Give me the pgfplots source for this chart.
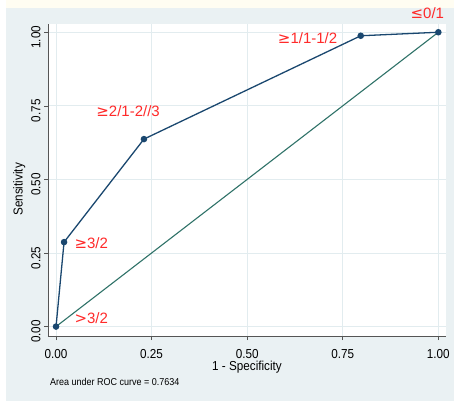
\documentclass[border=0pt]{standalone}
\usepackage{fontspec}
\setmainfont{Liberation Sans}
\newfontfamily\narrowfont[FakeStretch=0.9]{Liberation Sans}
\newfontfamily\symfont{DejaVu Sans}
\usepackage{pgfplots}
\pgfplotsset{compat=1.18}
\definecolor{bgc}{HTML}{EAF1F3}
\definecolor{roc}{HTML}{1A476F}
\definecolor{diag}{HTML}{2F7268}
\definecolor{gridc}{HTML}{E2ECEF}
\definecolor{lab}{HTML}{FF2A2A}
\definecolor{topc}{HTML}{FFFDF2}
\definecolor{axc}{HTML}{555555}
\begin{document}
\begin{tikzpicture}
\fill[white] (-48bp,-65bp) rectangle (406bp,336bp);
\fill[topc] (-42bp,328bp) rectangle (406bp,336bp);
\fill[bgc] (-42bp,-65bp) rectangle (406bp,328bp);
\begin{axis}[
  scale only axis, width=398bp, height=312bp,
  xmin=-0.021, xmax=1.020, ymin=-0.032, ymax=1.028,
  axis lines*=left,
  axis line style={axc, line width=0.8pt},
  xtick={0,0.25,0.5,0.75,1}, ytick={0,0.25,0.5,0.75,1},
  tick align=outside, major tick length=4bp,
  tick style={axc, line width=0.6pt},
  grid=major, grid style={gridc, line width=0.8pt},
  axis background/.style={fill=white},
  /pgf/number format/assume math mode=true,
  xticklabel style={/pgf/number format/fixed, /pgf/number format/fixed zerofill, /pgf/number format/precision=2, font=\narrowfont\fontsize{13bp}{15bp}\selectfont, yshift=-6bp},
  yticklabel style={/pgf/number format/fixed, /pgf/number format/fixed zerofill, /pgf/number format/precision=2, font=\narrowfont\fontsize{13bp}{15bp}\selectfont, rotate=90, anchor=south, xshift=-5bp},
  xlabel={1 - Specificity},
  xlabel style={font=\narrowfont\fontsize{13bp}{15bp}\selectfont, at={(axis description cs:0.5,-0.10)}, anchor=center},
  ylabel={Sensitivity},
  ylabel style={font=\narrowfont\fontsize{13bp}{15bp}\selectfont, at={(axis description cs:-0.072,0.47)}, anchor=center, rotate=0},
  clip=false,
]
\addplot[diag, line width=1.1pt] coordinates {(0,0) (1,1)};
\addplot[roc, line width=1.3pt, mark=*, mark size=2.6pt, mark options={fill=roc, draw=roc}] coordinates {
  (0,0) (0.021,0.287) (0.230,0.637) (0.797,0.988) (1,1)};
\node[lab, anchor=west, font=\fontsize{15bp}{18bp}\selectfont, inner sep=0pt] at (axis cs:0.048,0.282) {{\symfont ≥}3/2};
\node[lab, anchor=west, font=\fontsize{15bp}{18bp}\selectfont, inner sep=0pt] at (axis cs:0.105,0.731) {{\symfont ≥}2/1-2//3};
\node[lab, anchor=west, font=\fontsize{15bp}{18bp}\selectfont, inner sep=0pt] at (axis cs:0.58,0.98) {{\symfont ≥}1/1-1/2};
\node[lab, anchor=west, font=\fontsize{15bp}{18bp}\selectfont, inner sep=0pt] at (axis cs:0.927,1.065) {{\symfont ≤}0/1};
\node[lab, anchor=west, font=\fontsize{15bp}{18bp}\selectfont, inner sep=0pt] at (axis cs:0.048,0.027) {{\symfont >}3/2};
\node[anchor=west, font=\narrowfont\fontsize{10bp}{12bp}\selectfont, inner sep=0pt] at (axis description cs:0.005,-0.147) {Area under ROC curve = 0.7634};
\end{axis}
\end{tikzpicture}
\end{document}
